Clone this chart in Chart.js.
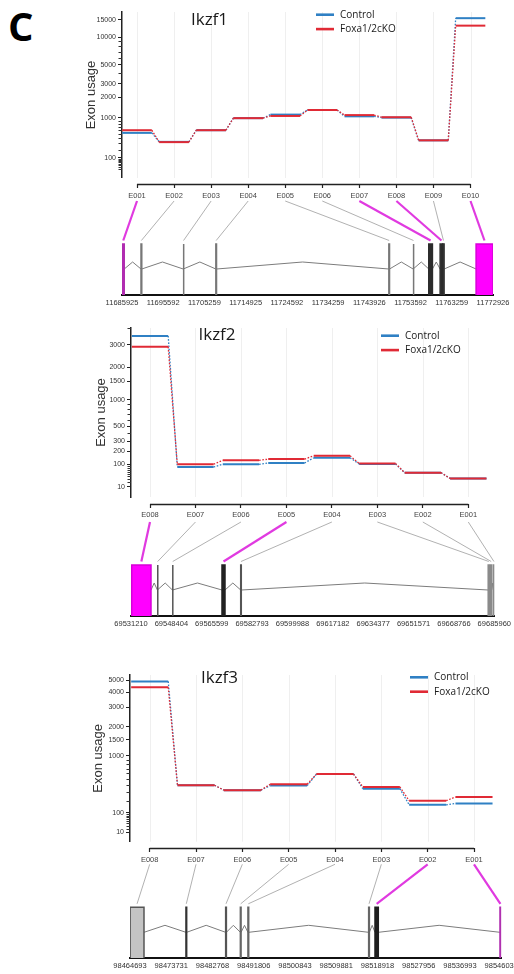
<!DOCTYPE html>
<html>
<head>
<meta charset="utf-8">
<script src="https://cdn.jsdelivr.net/npm/chart.js@4.4.1/dist/chart.umd.min.js"></script>
<style>
  html, body { margin: 0; padding: 0; background: #fff; }
  body { width: 514px; height: 974px; position: relative; overflow: hidden; }
  .panel { position: absolute; left: 0; }
  #letter { position: absolute; left: 8px; top: 6px; font: bold 40px/40px "Open Sans", sans-serif; color: #000; }
</style>
</head>
<body>
<div id="letter">C</div>
<canvas id="p1" class="panel" width="514" height="312" style="top:0"></canvas>
<canvas id="p2" class="panel" width="514" height="320" style="top:312px"></canvas>
<canvas id="p3" class="panel" width="514" height="342" style="top:632px"></canvas>
<script>
// ---- data ----
// Ikzf1 (+ strand, E001 left)
const ikzf1Exons = ['E001', 'E002', 'E003', 'E004', 'E005', 'E006', 'E007', 'E008', 'E009', 'E010']
const ikzf1Control = [530, 330, 600, 990, 1130, 1330, 1060, 1010, 360, 15600]
const ikzf1Ko = [600, 325, 600, 990, 1075, 1330, 1110, 1025, 360, 13100]
const ikzf1YTicks = [100, 1000, 2000, 3000, 5000, 10000, 15000]
const ikzf1Start = [11685990, 11690380, 11700280, 11707930, 11748500, 11754200, 11757860, 11760530, 11761150, 11768960]
const ikzf1End = [11686450, 11690560, 11700440, 11708090, 11748660, 11754360, 11758720, 11761150, 11761470, 11772900]
const ikzf1Sig = [true, false, false, false, false, false, true, true, false, true]
const ikzf1GenomeTicks = [11685925, 11695592, 11705259, 11714925, 11724592, 11734259, 11743926, 11753592, 11763259, 11772926]

// Ikzf2 (- strand, E008 left)
const ikzf2Exons = ['E008', 'E007', 'E006', 'E005', 'E004', 'E003', 'E002', 'E001']
const ikzf2Control = [3500, 84, 100, 108, 145, 102, 55, 32]
const ikzf2Ko = [2900, 101, 126, 135, 160, 105, 55, 32]
const ikzf2YTicks = [10, 100, 200, 300, 500, 1000, 1500, 2000, 3000]
const ikzf2Start = [69531508, 69542450, 69548850, 69569970, 69577940, 69683360, 69684380, 69685660]
const ikzf2End = [69539730, 69542700, 69549100, 69571250, 69578190, 69683870, 69684890, 69685940]
const ikzf2Sig = [true, false, false, true, false, false, false, false]
const ikzf2GenomeTicks = [69531210, 69548404, 69565599, 69582793, 69599988, 69617182, 69634377, 69651571, 69668766, 69685960]

// Ikzf3 (- strand, E008 left)
const ikzf3Exons = ['E008', 'E007', 'E006', 'E005', 'E004', 'E003', 'E002', 'E001']
const ikzf3Control = [4900, 400, 330, 395, 590, 350, 165, 178]
const ikzf3Ko = [4400, 400, 330, 415, 590, 375, 205, 245]
const ikzf3YTicks = [10, 100, 1000, 1500, 2000, 3000, 4000, 5000]
const ikzf3Start = [98464720, 98476950, 98485650, 98488870, 98490530, 98516980, 98518370, 98545750]
const ikzf3End = [98467760, 98477110, 98485810, 98489030, 98490700, 98517140, 98519093, 98545950]
const ikzf3Sig = [false, false, false, false, false, false, true, true]
const ikzf3GenomeTicks = [98464693, 98473731, 98482768, 98491806, 98500843, 98509881, 98518918, 98527956, 98536993, 98546031]

// ---- styles ----
const BLUE = '#2f80c4'
const RED = '#e02a35'
const AXIS_FONT = '"Liberation Sans", Arial, sans-serif'
const TEXT_FONT = '"Open Sans", sans-serif'
const MAG = '#ff00ff'

// gene model heights (in px above the genome axis)
const EXON_TOP = 51
const INTRON_BASE = 26
const INTRON_PEAK = 33
const LINK_TOP = 94
const LINK_BOTTOM = 54.5

// y axis of DEXSeq plots: variance stabilised, log-like up high, sqrt-like near 0
const vstC = 2000
const vst = v => Math.asinh(Math.sqrt(Math.max(v, 0) / vstC))
const vstInv = g => vstC * Math.sinh(g) ** 2

class VstScale extends Chart.LinearScale {
  static id = 'vst'
  static defaults = {}
  buildTicks() { return [] }
  configure() {
    super.configure()
    this._g0 = vst(this.min)
    this._g1 = vst(this.max)
  }
  getPixelForValue(v) {
    return this.getPixelForDecimal((vst(v) - this._g0) / (this._g1 - this._g0))
  }
  getValueForPixel(p) {
    return vstInv(this._g0 + this.getDecimalForPixel(p) * (this._g1 - this._g0))
  }
}
Chart.register(VstScale)

function stepPoints(values) {
  const pts = []
  values.forEach((v, i) => { pts.push({x: i - 0.4, y: v}, {x: i + 0.4, y: v}) })
  return pts
}

function intronPoints(starts, ends) {
  const pts = []
  for (let i = 0; i < starts.length - 1; i++) {
    const a = ends[i], b = starts[i + 1]
    pts.push({x: a, y: INTRON_BASE}, {x: (a + b) / 2, y: INTRON_PEAK}, {x: b, y: INTRON_BASE})
  }
  return pts
}

const decor = {
  id: 'decor',
  beforeDatasetsDraw(chart, args, o) {
    const {ctx} = chart
    const {x, y} = chart.scales
    ctx.save()
    ctx.strokeStyle = '#efefef'
    ctx.lineWidth = 1
    x.ticks.forEach(t => {
      const px = Math.round(x.getPixelForValue(t.value)) + 0.5
      ctx.beginPath(); ctx.moveTo(px, y.top); ctx.lineTo(px, y.bottom); ctx.stroke()
    })
    ctx.restore()
  },
  afterDatasetsDraw(chart, args, o) {
    const {ctx} = chart
    const {x, xg, yg} = chart.scales
    // links between exon labels and exon boxes
    ctx.save()
    o.starts.forEach((s, i) => {
      const x1 = x.getPixelForValue(i), y1 = yg.getPixelForValue(LINK_TOP)
      const x2 = xg.getPixelForValue((s + o.ends[i]) / 2), y2 = yg.getPixelForValue(LINK_BOTTOM)
      ctx.strokeStyle = o.sig[i] ? '#e03ae0' : '#a8a8a8'
      ctx.lineWidth = o.sig[i] ? 2.2 : 0.9
      ctx.beginPath(); ctx.moveTo(x1, y1); ctx.lineTo(x2, y2); ctx.stroke()
    })
    ctx.restore()
  },
  afterDraw(chart, args, o) {
    const {ctx} = chart
    const {x, y, yg} = chart.scales
    ctx.save()
    // exon axis line, only between first and last tick
    const ay = Math.round(yg.getPixelForValue(o.xAxisAt)) + 0.5
    ctx.strokeStyle = '#222'
    ctx.lineWidth = 1.3
    ctx.beginPath()
    ctx.moveTo(x.getPixelForValue(0), ay)
    ctx.lineTo(x.getPixelForValue(x.ticks.length - 1), ay)
    ctx.stroke()
    // minor ticks on usage axis
    ctx.lineWidth = 1
    ctx.strokeStyle = '#333'
    for (let d = 10; d <= y.max; d *= 10) {
      for (let k = 2; k <= 9; k++) {
        const v = k * d
        if (v > y.max || o.yTicks.includes(v)) continue
        const py = Math.round(y.getPixelForValue(v)) + 0.5
        ctx.beginPath(); ctx.moveTo(y.right - 3.5, py); ctx.lineTo(y.right, py); ctx.stroke()
      }
    }
    // title
    ctx.fillStyle = '#1a1a1a'
    ctx.font = '17px ' + TEXT_FONT
    ctx.textAlign = 'center'
    ctx.textBaseline = 'middle'
    ctx.fillText(o.title, o.titleX, o.titleY)
    // legend
    ctx.font = '10px ' + TEXT_FONT
    ctx.textAlign = 'left'
    chart.data.datasets.filter(d => d.label).forEach((d, i) => {
      const ly = o.legY + i * 14.4
      ctx.strokeStyle = d.borderColor
      ctx.lineWidth = 2.6
      ctx.beginPath(); ctx.moveTo(o.legX, ly); ctx.lineTo(o.legX + 18, ly); ctx.stroke()
      ctx.fillStyle = '#1a1a1a'
      ctx.fillText(d.label, o.legX + 24, ly)
    })
    ctx.restore()
  }
}

function buildPanel(p) {
  const regionH = p.gAxis - p.yBottom
  const dash = ctx => ctx.p0DataIndex % 2 ? [1.6, 1.6] : undefined
  const thin = ctx => ctx.p0DataIndex % 2 ? 1.3 : 2
  const datasets = [
    {label: 'Foxa1/2cKO', data: stepPoints(p.ko), borderColor: RED, order: 1},
    {label: 'Control', data: stepPoints(p.control), borderColor: BLUE, order: 2},
  ].map(d => Object.assign(d, {
    xAxisID: 'x', yAxisID: 'y', borderWidth: 2, pointRadius: 0, borderCapStyle: 'butt',
    segment: {borderDash: dash, borderWidth: thin}
  }))
  // legend order: Control first
  datasets.reverse()
  datasets.push({
    data: intronPoints(p.starts, p.ends), xAxisID: 'xg', yAxisID: 'yg',
    borderColor: '#7c7c7c', borderWidth: 1, pointRadius: 0, order: 6
  })
  p.starts.forEach((s, i) => {
    const e = p.ends[i]
    datasets.push({
      data: [{x: s, y: 0}, {x: s, y: EXON_TOP}, {x: e, y: EXON_TOP}, {x: e, y: 0}],
      xAxisID: 'xg', yAxisID: 'yg', fill: 'origin', pointRadius: 0,
      backgroundColor: p.fills[i], borderColor: p.lines[i], borderWidth: 1.5, order: 5
    })
  })

  return new Chart(document.getElementById(p.id), {
    type: 'line',
    data: {datasets},
    plugins: [decor],
    options: {
      responsive: false,
      animation: false,
      events: [],
      layout: {padding: {left: p.padLeft, top: p.yTop, right: 514 - p.right, bottom: 0}},
      scales: {
        x: {
          type: 'linear', min: p.idxMin, max: p.idxMax, position: {yg: regionH - 6.5},
          afterBuildTicks: s => { s.ticks = p.exons.map((_, i) => ({value: i})) },
          ticks: {callback: v => p.exons[v], font: {family: AXIS_FONT, size: 7.5}, color: '#444', padding: 3, maxRotation: 0, autoSkip: false},
          grid: {drawOnChartArea: false, drawTicks: true, tickLength: 4, tickColor: '#222', tickWidth: 1.2},
          border: {display: false}
        },
        y: {
          type: 'vst', min: 0, max: p.vstMax, position: 'left',
          stack: 'panel', stackWeight: p.yBottom - p.yTop, weight: 2,
          afterBuildTicks: s => { s.ticks = p.yTicks.map(v => ({value: v})) },
          afterFit: s => { s.width = p.axisLeft - p.padLeft },
          ticks: {callback: v => String(v), font: {family: AXIS_FONT, size: 7}, color: '#333', padding: 2, autoSkip: false},
          grid: {drawOnChartArea: false, tickLength: 4, tickColor: '#222', tickWidth: 1},
          border: {color: '#222', width: 1.5},
          title: {display: true, text: 'Exon usage', font: {family: AXIS_FONT, size: 13}, color: '#333', padding: 0}
        },
        yg: {
          type: 'linear', min: 0, max: regionH, display: false,
          stack: 'panel', stackWeight: regionH, weight: 1
        },
        xg: {
          type: 'linear', min: p.gMin, max: p.gMax, position: 'bottom',
          afterBuildTicks: s => { s.ticks = p.gTicks.map(v => ({value: v})) },
          afterFit: s => { s.height = p.height - p.gAxis; s.paddingLeft = 0; s.paddingRight = 0 },
          ticks: {callback: v => String(v), font: {family: AXIS_FONT, size: 7.5}, color: '#333', padding: 3, maxRotation: 0, autoSkip: false},
          grid: {display: false, drawTicks: false},
          border: {display: true, color: '#111', width: 2}
        }
      },
      plugins: {
        legend: {display: false},
        tooltip: {enabled: false},
        decor: {
          title: p.title, titleX: p.titleX, titleY: p.titleY, legX: p.legX, legY: p.legY,
          starts: p.starts, ends: p.ends, sig: p.sig, yTicks: p.yTicks, xAxisAt: regionH - 6.5
        }
      }
    }
  })
}

const G = '#777777', D = '#2c2c2c'
buildPanel({
  id: 'p1', height: 312, padLeft: 84, axisLeft: 122, right: 493,
  yTop: 12, yBottom: 178, gAxis: 295, vstMax: 18000,
  idxMin: -0.405, idxMax: 9.607, gMin: 11685925, gMax: 11772926,
  title: 'Ikzf1', titleX: 209.5, titleY: 20, legX: 316, legY: 14.7,
  exons: ikzf1Exons, control: ikzf1Control, ko: ikzf1Ko, yTicks: ikzf1YTicks,
  starts: ikzf1Start, ends: ikzf1End, sig: ikzf1Sig, gTicks: ikzf1GenomeTicks,
  fills: ['#b52db5', G, G, G, G, G, D, D, '#3a3a3a', MAG],
  lines: ['#b02cb0', G, G, G, G, G, D, D, '#3a3a3a', '#d800d8']
})
buildPanel({
  id: 'p2', height: 320, padLeft: 94, axisLeft: 131, right: 494.3,
  yTop: 16, yBottom: 185, gAxis: 304, vstMax: 4000,
  idxMin: -0.418, idxMax: 7.572, gMin: 69531210, gMax: 69685960,
  title: 'Ikzf2', titleX: 217, titleY: 23, legX: 381, legY: 23.7,
  exons: ikzf2Exons, control: ikzf2Control, ko: ikzf2Ko, yTicks: ikzf2YTicks,
  starts: ikzf2Start, ends: ikzf2End, sig: ikzf2Sig, gTicks: ikzf2GenomeTicks,
  fills: [MAG, '#555', '#555', '#222', '#555', '#b4b4b4', '#b4b4b4', '#b4b4b4'],
  lines: ['#d800d8', '#555', '#555', '#222', '#555', '#8a8a8a', '#8a8a8a', '#8a8a8a']
})
buildPanel({
  id: 'p3', height: 342, padLeft: 90.5, axisLeft: 130, right: 501.25,
  yTop: 43, yBottom: 209.7, gAxis: 326.3, vstMax: 5500,
  idxMin: -0.425, idxMax: 7.588, gMin: 98464693, gMax: 98546031,
  title: 'Ikzf3', titleX: 219.5, titleY: 46, legX: 410, legY: 45.3,
  exons: ikzf3Exons, control: ikzf3Control, ko: ikzf3Ko, yTicks: ikzf3YTicks,
  starts: ikzf3Start, ends: ikzf3End, sig: ikzf3Sig, gTicks: ikzf3GenomeTicks,
  fills: ['#c4c4c4', '#333', '#555', '#666', '#666', '#666', '#1e1e1e', '#b030b0'],
  lines: ['#555', '#333', '#555', '#666', '#666', '#666', '#1e1e1e', '#b030b0']
})
</script>
</body>
</html>
